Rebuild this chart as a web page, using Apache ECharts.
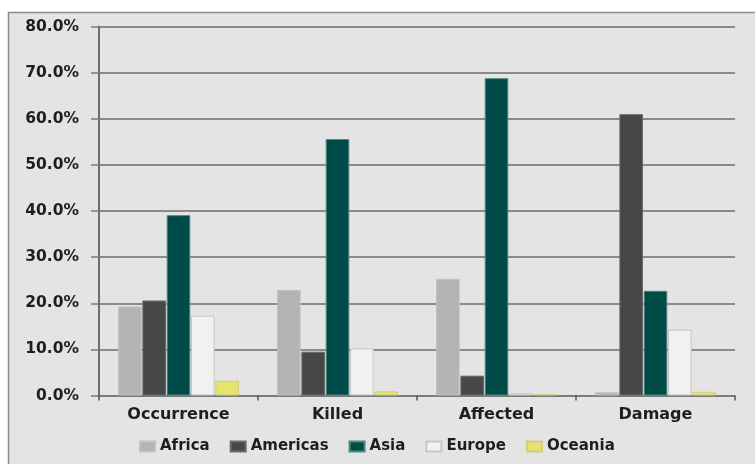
<!DOCTYPE html>
<html>
<head>
<meta charset="utf-8">
<style>
  html, body { margin: 0; padding: 0; background: #ffffff; }
  #chart { width: 755px; height: 464px; }
</style>
<script src="https://cdn.jsdelivr.net/npm/echarts@6/dist/echarts.min.js"></script>
</head>
<body>
<div id="chart"></div>
<script>
// Share of disaster impacts by region (percent)
const categories = ['Occurrence', 'Killed', 'Affected', 'Damage'];
const africa   = [19.3, 22.9, 25.3, 0.7];
const americas = [20.6, 9.5, 4.3, 61.0];
const asia     = [39.1, 55.6, 68.8, 22.7];
const europe   = [17.3, 10.2, 0.5, 14.3];
const oceania  = [3.2, 0.9, 0.3, 0.8];
const yTicks = [0, 10, 20, 30, 40, 50, 60, 70, 80];

const FONT = 'DejaVu Sans';
const TEXT = '#1e1e1e';

const seriesDefs = [
  { name: 'Africa',   data: africa,   fill: '#b4b4b4', edge: '#c2c2c2' },
  { name: 'Americas', data: americas, fill: '#474747', edge: '#6a6a6a' },
  { name: 'Asia',     data: asia,     fill: '#004a47', edge: '#4b8a84' },
  { name: 'Europe',   data: europe,   fill: '#f1f1f1', edge: '#c6c6c6' },
  { name: 'Oceania',  data: oceania,  fill: '#e6e46a', edge: '#cfcd8a' }
];

const chart = echarts.init(document.getElementById('chart'), null, { renderer: 'canvas' });

chart.setOption({
  backgroundColor: '#ffffff',
  animation: false,
  graphic: [{
    type: 'rect',
    z: -10,
    silent: true,
    shape: { x: 8.5, y: 12.5, width: 780, height: 470 },
    style: { fill: '#e4e4e4', stroke: '#8c8c8c', lineWidth: 1.5 }
  }],
  grid: { left: 99, right: 20, top: 26.5, bottom: 68.5, containLabel: false },
  legend: {
    left: 134,
    top: 434,
    itemWidth: 15,
    itemHeight: 10,
    itemGap: 20,
    icon: 'rect',
    textStyle: { fontFamily: FONT, fontWeight: 'bold', fontSize: 15, color: TEXT },
    data: seriesDefs.map(s => s.name)
  },
  xAxis: {
    type: 'category',
    data: categories,
    axisLine: { lineStyle: { color: '#777777', width: 1.5 } },
    axisTick: { show: true, length: 5, interval: 0, lineStyle: { color: '#555555', width: 1.5 } },
    axisLabel: { margin: 11, fontFamily: FONT, fontWeight: 'bold', fontSize: 16, color: TEXT }
  },
  yAxis: {
    type: 'value',
    min: yTicks[0],
    max: yTicks[yTicks.length - 1],
    interval: yTicks[1] - yTicks[0],
    axisLine: { show: true, lineStyle: { color: '#6e6e6e', width: 2 } },
    axisTick: { show: true, length: 8, lineStyle: { color: '#7a7a7a', width: 1.5 } },
    splitLine: { show: true, lineStyle: { color: '#8a8a8a', width: 1.8 } },
    axisLabel: {
      margin: 20,
      fontFamily: FONT, fontWeight: 'bold', fontSize: 15.5, color: TEXT,
      formatter: v => v.toFixed(1) + '%'
    }
  },
  series: seriesDefs.map(s => ({
    name: s.name,
    type: 'bar',
    data: s.data,
    barGap: '3%',
    barCategoryGap: '24%',
    itemStyle: { color: s.fill, borderColor: s.edge, borderWidth: 1 }
  }))
});
</script>
</body>
</html>
